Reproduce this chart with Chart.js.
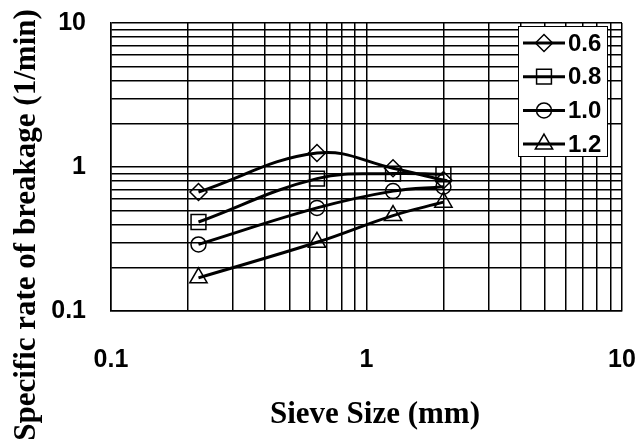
<!DOCTYPE html>
<html>
<head>
<meta charset="utf-8">
<script src="https://cdn.jsdelivr.net/npm/chart.js@4/dist/chart.umd.min.js"></script>
<style>
  body { margin: 0; background: #fff; }
  canvas { display: block; }
</style>
</head>
<body>
<canvas id="myChart" width="640" height="439"></canvas>
<script>
// sieve sizes (mm) and specific rate of breakage (1/min) per series
const sieveSizes = [0.22, 0.64, 1.27, 2.0]
const rate06 = [0.67, 1.25, 0.98, 0.81]
const rate08 = [0.415, 0.83, 0.90, 0.89]
const rate10 = [0.29, 0.52, 0.68, 0.73]
const rate12 = [0.17, 0.30, 0.46, 0.57]
const seriesLabels = ["0.6", "0.8", "1.0", "1.2"]
const majorTicks = [0.1, 1, 10]
const gridTicks = [0.1,0.2,0.3,0.4,0.5,0.6,0.7,0.8,0.9,1,2,3,4,5,6,7,8,9,10]

const markers = [
  {style: "rectRot", radius: 8.5},
  {style: "rect", radius: 10.5},
  {style: "circle", radius: 7.5},
  {style: "triangle", radius: 10}
]

function toPoints(values) {
  return values.map((v, i) => ({x: sieveSizes[i], y: v}))
}

const allSeries = [rate06, rate08, rate10, rate12]
const datasets = allSeries.map((vals, i) => ({
  label: seriesLabels[i],
  data: toPoints(vals),
  borderColor: "#000",
  borderWidth: 3,
  tension: 0.4,
  pointStyle: markers[i].style,
  pointRadius: markers[i].radius,
  pointBorderWidth: 1.5,
  pointBorderColor: "#000",
  pointBackgroundColor: "rgba(0,0,0,0)"
}))

function setTicks(scale) {
  scale.ticks = gridTicks.map(v => ({value: v}))
}
function tickLabel(value) {
  return majorTicks.includes(value) ? String(value) : ""
}
// no extra space for label overflow, layout padding decides the plot box
function noPad(s) {
  s.paddingLeft = 0
  s.paddingRight = 0
  s.paddingTop = 0
  s.paddingBottom = 0
}

// axis titles
const titlesPlugin = {
  id: "titles",
  afterDraw(chart) {
    const ctx = chart.ctx
    ctx.save()
    ctx.fillStyle = "#000"
    ctx.font = "bold 31px 'Liberation Serif', 'Times New Roman', serif"
    ctx.textAlign = "center"
    ctx.textBaseline = "middle"
    ctx.fillText("Sieve Size (mm)", 375, 415)
    ctx.translate(27, 225)
    ctx.rotate(-Math.PI / 2)
    ctx.fillText("Specific rate of breakage (1/min)", 0, 0)
    ctx.restore()
  }
}

// legend box with line + marker like the original
const legendPlugin = {
  id: "boxLegend",
  afterDraw(chart) {
    const ctx = chart.ctx
    ctx.save()
    ctx.fillStyle = "#fff"
    ctx.fillRect(518, 26, 89, 130)
    ctx.strokeStyle = "#000"
    ctx.lineWidth = 1
    ctx.strokeRect(518.5, 26.5, 89, 130)
    seriesLabels.forEach((lab, i) => {
      const y = 43 + i * 33.7
      ctx.strokeStyle = "#000"
      ctx.lineWidth = 3
      ctx.beginPath()
      ctx.moveTo(523, y)
      ctx.lineTo(565, y)
      ctx.stroke()
      ctx.lineWidth = 1.5
      ctx.fillStyle = "rgba(0,0,0,0)"
      Chart.helpers.drawPoint(ctx, {pointStyle: markers[i].style, radius: markers[i].radius, borderWidth: 1.5}, 544, y)
      ctx.fillStyle = "#000"
      ctx.font = "bold 24px 'Liberation Sans', Arial, sans-serif"
      ctx.textAlign = "left"
      ctx.textBaseline = "middle"
      ctx.fillText(lab, 568, y + 1)
    })
    ctx.restore()
  }
}

const ctxGrafico = document.getElementById("myChart")
new Chart(ctxGrafico, {
  type: "line",
  data: {datasets: datasets},
  plugins: [titlesPlugin, legendPlugin],
  options: {
    responsive: false,
    animation: false,
    devicePixelRatio: 1,
    layout: {padding: {top: 23, right: 18, left: 0, bottom: 0}},
    plugins: {legend: {display: false}, tooltip: {enabled: false}},
    scales: {
      x: {
        type: "logarithmic",
        min: 0.1,
        max: 10,
        afterBuildTicks: setTicks,
        afterFit: s => { s.height = 128; noPad(s) },
        grid: {color: "#000", lineWidth: 1.5, drawTicks: false},
        border: {color: "#000", width: 1.5},
        ticks: {
          autoSkip: false, maxRotation: 0, padding: 34, color: "#000",
          font: {family: "'Liberation Sans', Arial, sans-serif", size: 25, weight: "bold"},
          callback: tickLabel
        }
      },
      y: {
        type: "logarithmic",
        min: 0.1,
        max: 10,
        afterBuildTicks: setTicks,
        afterFit: s => { s.width = 111; noPad(s) },
        grid: {color: "#000", lineWidth: 1.5, drawTicks: false},
        border: {color: "#000", width: 1.5},
        ticks: {
          autoSkip: false, padding: 25, color: "#000",
          font: {family: "'Liberation Sans', Arial, sans-serif", size: 25, weight: "bold"},
          callback: tickLabel
        }
      }
    }
  }
})
</script>
</body>
</html>
